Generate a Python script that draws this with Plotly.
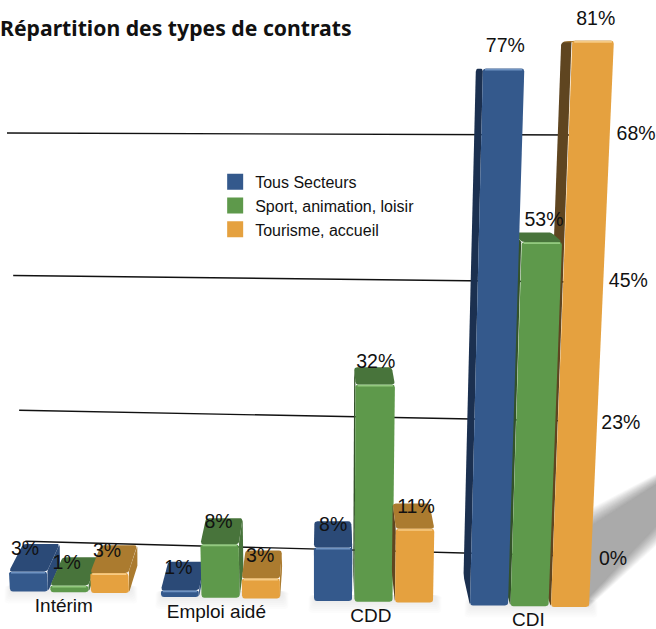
import plotly.graph_objects as go

# ---- data ----
categories = ["Intérim", "Emploi aidé", "CDD", "CDI"]
tous_secteurs = [3, 1, 8, 77]
sport_animation = [1, 8, 32, 53]
tourisme_accueil = [3, 3, 11, 81]
axis_ticks = [0, 23, 45, 68]
series_names = ["Tous Secteurs", "Sport, animation, loisir", "Tourisme, accueil"]
chart_title = "Répartition des types de contrats"

# ---- styles / projection parameters (not data) ----
FRONT = ["#34598c", "#5e994b", "#e5a13f"]
TOP = ["#2b4a77", "#48743b", "#ab7b2f"]
SIDE = ["#1b3050", "#33522a", "#5f4520"]
SHINE = ["#6f93c2", "#93c97f", "#f6cb85"]
FONT = "Liberation Sans, Arial, sans-serif"
VP_X, VP_Y = 326.0, 70.0
GROUP_X = [10, 161, 314, 470]
GROUP_BASE = [591.5, 597, 601, 605.5]
PITCH, WIDTH = 40.5, 38.0
GRID_RIGHT_Y = [556, 421, 282, 135]
TICK_LABEL_Y = [560, 424, 282, 135]


def height(v):
    return 6.65 * v + 0.0042 * v * v


def lean(x, h):
    return x + (x - VP_X) * 0.000167 * h


def back(p):
    return (p[0] + (VP_X - p[0]) * 0.045, p[1] - (p[1] - VP_Y) * 0.055)


def rounded(poly, r=3.0):
    out = []
    n = len(poly)
    for i in range(n):
        px, py = poly[i - 1]
        cx, cy = poly[i]
        nx, ny = poly[(i + 1) % n]
        def toward(ax, ay):
            d = max(((ax - cx) ** 2 + (ay - cy) ** 2) ** 0.5, 1e-6)
            f = min(r, d / 2) / d
            return cx + (ax - cx) * f, cy + (ay - cy) * f
        a, b = toward(px, py), toward(nx, ny)
        for t in (0, 0.25, 0.5, 0.75, 1):
            out.append(((1 - t) ** 2 * a[0] + 2 * t * (1 - t) * cx + t * t * b[0],
                        (1 - t) ** 2 * a[1] + 2 * t * (1 - t) * cy + t * t * b[1]))
    return out


fig = go.Figure()


def face(poly, color, r=3.0):
    pts = rounded(poly, r) if r else poly
    xs = [p[0] for p in pts] + [pts[0][0]]
    ys = [p[1] for p in pts] + [pts[0][1]]
    fig.add_trace(go.Scatter(x=xs, y=ys, mode="lines", fill="toself", fillcolor=color,
                             line=dict(width=0), hoverinfo="skip", showlegend=False))


# soft shadow behind the tallest bar
for i in range(18):
    a = 20 * (1 - i / 17)
    face([(588, 528 - a * 0.9), (660, 482 - a * 0.5), (660, 522 + a), (588, 598 + a * 0.5)],
         "rgba(105,105,105,0.04)", r=0)

# ground shadows
for g, b in zip(GROUP_X, GROUP_BASE):
    for i in range(6):
        d = 1 + i * 2
        face([(g - d * 0.5, b - 6), (g + 122 + d * 0.5, b - 6), (g + 122 + d * 0.5, b + 1 + d),
              (g - d * 0.5, b + 1 + d)], "rgba(90,90,90,0.02)", r=4)

# sloping gridlines
for v, yr in zip(axis_ticks, GRID_RIGHT_Y):
    x0 = 7 + (68 - v) * 0.27
    x1 = 575
    slope = (yr - VP_Y) * 0.000055
    fig.add_trace(go.Scatter(x=[x0, x1], y=[yr - slope * (x1 - x0), yr], mode="lines",
                             line=dict(color="#111111", width=1.4), hoverinfo="skip", showlegend=False))

series = [tous_secteurs, sport_animation, tourisme_accueil]
label_x, label_y, label_t = [], [], []
for c, (gx, base) in enumerate(zip(GROUP_X, GROUP_BASE)):
    order = [2, 1, 0] if gx > VP_X else [0, 1, 2]
    for s in order:
        v = series[s][c]
        h = height(v)
        xl = gx + s * PITCH
        xr = xl + WIDTH
        yb = base + s * 0.7
        yt = yb - h
        bl, br = (xl, yb), (xr, yb)
        tl, tr = (lean(xl, h), yt), (lean(xr, h), yt)
        if xl > VP_X:
            face([bl, tl, back(tl), back(bl)], SIDE[s])
        else:
            face([br, tr, back(tr), back(br)], TOP[s])
        face([tl, tr, back(tr), back(tl)], TOP[s])
        face([bl, br, tr, tl], FRONT[s])
        fig.add_trace(go.Scatter(x=[tl[0] + 2, tr[0] - 2], y=[yt + 1.2, yt + 1.2], mode="lines",
                                 line=dict(color=SHINE[s], width=1.6), hoverinfo="skip", showlegend=False))
        cx = (tl[0] + tr[0]) / 2
        label_x.append(cx + (cx - VP_X) * 0.01)
        label_y.append(yt - 21)
        label_t.append(f"{v}%")

# data labels
fig.add_trace(go.Scatter(x=label_x, y=label_y, text=label_t, mode="text", textposition="middle center",
                         textfont=dict(family=FONT, size=19.5, color="#111111"),
                         hoverinfo="skip", showlegend=False))
# category labels
fig.add_trace(go.Scatter(x=[g + 57 + (g - VP_X) * 0.01 for g in GROUP_X],
                         y=[b + 16 for b in GROUP_BASE], text=categories, mode="text",
                         textposition="middle center",
                         textfont=dict(family=FONT, size=19, color="#111111"),
                         hoverinfo="skip", showlegend=False))
# value-axis labels
fig.add_trace(go.Scatter(x=[613 + v * 0.34 for v in axis_ticks], y=TICK_LABEL_Y,
                         text=[f"{v}%" for v in axis_ticks], mode="text",
                         textposition="middle center",
                         textfont=dict(family=FONT, size=19.5, color="#111111"),
                         hoverinfo="skip", showlegend=False))
# legend entries
for name, col in zip(series_names, FRONT):
    fig.add_trace(go.Scatter(x=[None], y=[None], mode="markers", name=name,
                             marker=dict(symbol="square", size=16, color=col)))

fig.update_layout(
    width=656, height=629, margin=dict(l=0, r=0, t=0, b=0),
    plot_bgcolor="white", paper_bgcolor="white",
    xaxis=dict(range=[0, 656], visible=False, fixedrange=True),
    yaxis=dict(range=[629, 0], visible=False, fixedrange=True),
    annotations=[dict(text=f"<b>{chart_title}</b>", x=-0.003, y=1 - 28 / 629, xref="paper", yref="paper",
                      xanchor="left", yanchor="middle", showarrow=False,
                      font=dict(family="Noto Sans, sans-serif", size=21.2, color="#111111"))],
    legend=dict(x=0.328, y=0.738, xanchor="left", yanchor="top", bgcolor="rgba(0,0,0,0)",
                font=dict(family=FONT, size=16, color="#111111"), itemwidth=30, traceorder="normal"),
)
fig.write_html("out.html", config={"displayModeBar": False},
               post_script="document.body.style.margin='0';document.body.style.overflow='hidden';")
